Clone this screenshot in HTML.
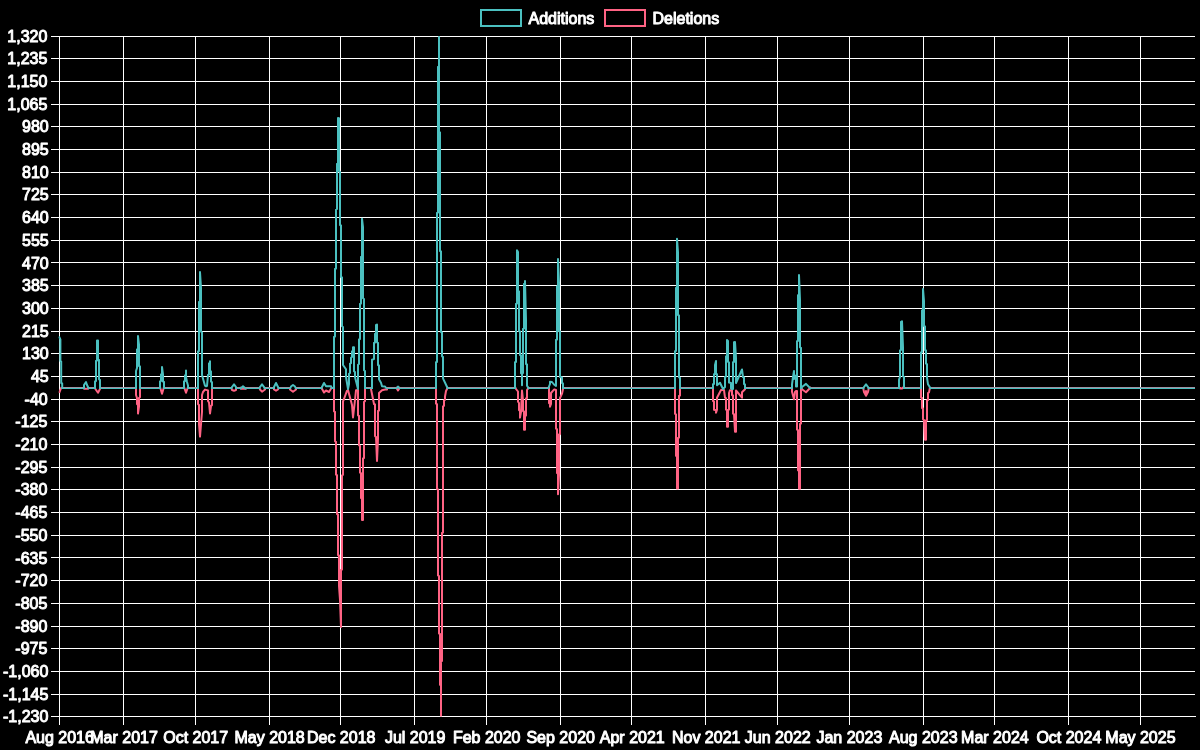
<!DOCTYPE html>
<html><head><meta charset="utf-8"><title>Code frequency</title>
<style>html,body{margin:0;padding:0;background:#000;}svg{display:block}text{font-family:"Liberation Sans",sans-serif;font-size:16px;fill:#fff;stroke:#fff;stroke-width:1;stroke-linejoin:round;paint-order:stroke fill}</style></head><body>
<svg width="1200" height="750" viewBox="0 0 1200 750">
<rect x="0" y="0" width="1200" height="750" fill="#000"/>
<path d="M59.5 36.0V725.3M123.5 36.0V725.3M195.5 36.0V725.3M269.5 36.0V725.3M340.5 36.0V725.3M414.5 36.0V725.3M486.5 36.0V725.3M560.5 36.0V725.3M631.5 36.0V725.3M705.5 36.0V725.3M777.5 36.0V725.3M849.5 36.0V725.3M923.5 36.0V725.3M994.5 36.0V725.3M1068.5 36.0V725.3M1140.5 36.0V725.3M51.4 36.5H1195.2M51.4 58.5H1195.2M51.4 81.5H1195.2M51.4 104.5H1195.2M51.4 126.5H1195.2M51.4 149.5H1195.2M51.4 172.5H1195.2M51.4 194.5H1195.2M51.4 217.5H1195.2M51.4 240.5H1195.2M51.4 262.5H1195.2M51.4 285.5H1195.2M51.4 308.5H1195.2M51.4 331.5H1195.2M51.4 353.5H1195.2M51.4 376.5H1195.2M51.4 399.5H1195.2M51.4 421.5H1195.2M51.4 444.5H1195.2M51.4 467.5H1195.2M51.4 489.5H1195.2M51.4 512.5H1195.2M51.4 535.5H1195.2M51.4 557.5H1195.2M51.4 580.5H1195.2M51.4 603.5H1195.2M51.4 626.5H1195.2M51.4 648.5H1195.2M51.4 671.5H1195.2M51.4 694.5H1195.2M51.4 716.5H1196.0" stroke="#ffffff" stroke-width="1" fill="none" shape-rendering="crispEdges"/>
<clipPath id="ca"><rect x="58.37" y="35" width="1137.63" height="682.8"/></clipPath>
<g clip-path="url(#ca)" fill="none" stroke-linejoin="round">
<path d="M62 388H83M88 388H94M101 388H136M140 388H160M164 388H184M188 388H198M212 388H231M236 388H240M246 388H259M265 388H274M279 388H290M296 388H321M332 388H334M365 388H371M387 388H396M400 388H436M448 388H515M529 388H549M564 388H675M680 388H713M745 388H792M811 388H863M869 388H900M903 388H921M930 388H1195" stroke="rgb(255,99,132)" stroke-width="2"/>
<path d="M59.2 392.8L61.5 387M83 387L84 388.7L88 388.7L88 387M94 387L98 392.7L101 387M136 387L136 395L137 398L137 404L138 405L138 413.5L139 406.5L139 398L140 397L140 387M160 387L162 393.8L164 387M184 387L186 392.7L188 387M198 387L198 404L199 405L199 424L200 436.6L202 412L202 395L203 392L205 389.6L208 390.4L208 391L208 401L209 402.5L210 413.5L211 406L212 405L212 387M231 387L232 390L234 390.7L236 390L236 387M240 387L241 388.7L246 388.7L246 387M259 387L260 389.5L262 391.7L265 389.5L265 387M274 387L274 389.5L276 390.7L278 389.5L279 387M290 387L290 389.5L293 391.7L296 389.5L296 387M321 387L324 392.5L326 390.5L329 392L332 387M334 387L334 411.3L335 411.8L335 441.3L336 441.8L336 474.7L337 475.2L337 514L338 514.5L338 555L339 555.5L339 586L340 600L341 627L341 600L341 570L342 569.5L342 475.3L343 474.8L343 401.3L344 399L347 390.7L348 390L352 405L353 417.4L355 400L356 390.3L358 390L358 415.3L359 415.8L359 445.3L360 445.8L360 472.7L361 473.2L361 498L362 498.5L362 520L363 520L363 514L363 458.5L364 458L364 402L365 401L365 387M371 387L371 389L374 404L375 404.5L375 436L376 437L377 461L377 461L378 438.7L378 411L379 410.5L379 393L382 390.2L384 389.8L385 389.6L387 389.5L387 387M396 387L398 390.5L400 387M436 387L436 403.7L437 404.2L437 489L438 489.5L438 575.4L439 576L439 633.6L440 634L440 684.8L441 685.3L441 715.8L441 661.6L442 661L442 533L443 532.5L443 406.3L444 405.8L444 400.3L445 399.8L445 396.5L446 391L448 387M515 387L516 389L518 391.5L518 401.7L519 403L519 410L520 411L520 417.7L521 412L522 390.5L523 400L523 411L524 411.5L524 429.7L525 429.7L525 416L526 415.5L526 398.5L527 398L527 390L529 387M549 387L549 403L550 404L550 406.7L551 404L551 393L554 389.6L555 389.6L556 390L556 428.7L557 429.2L557 473L558 473.5L558 494.3L558 494.3L559 474.6L559 434.5L560 434L560 398L562 393.7L563 389L564 387M675 387L675 413.8L676 414.3L676 455.8L677 456.3L677 488.4L678 488.4L678 480L678 438L679 437.5L679 396L680 395.5L680 387M713 387L713 401L714 401.5L714 409.7L716 410.2L716 412.7L716 412.7L717 409.7L717 397.7L721 390L722 390L724 390L725 397.7L726 398.2L726 409.7L727 410.2L727 426.7L728 426.7L728 410L729 409.5L729 393L730 390.2L732 390.2L732 395L733 395.5L733 413.7L734 414.2L735 431.7L736 431.7L736 415.7L736 390.5L742 397.7L742 397.7L742 392.3L745 389.3L745 387M792 387L792 391.7L794 399.3L794 399.3L795 392L796 391L797 391L797 429.7L798 430.2L798 470.3L799 470.8L799 488.7L800 488.7L800 467L800 424L801 423.5L801 387M801 387L802 389.2L806 392.2L811 387M863 387L864 392L866 395.7L866 391L866 395.7L868 392L869 387M900 387L900 388.6L902 388.6L903 387M921 387L921 397.6L922 398L922 408L923 408.5L923 419.2L924 420L925 439.8L926 439.8L926 438L926 420.5L927 420L927 400.5L928 400L928 393L929 392.4L930 387" stroke="rgb(255,99,132)" stroke-width="2"/>
<path d="M62 388.2H84M89 388.2H95M100 388.2H136M140 388.2H160M164 388.2H184M188 388.2H198M212 388.2H231M236 388.2H240M246 388.2H259M265 388.2H274M279 388.2H290M296 388.2H321M332 388.2H334M365 388.2H372M387 388.2H396M400 388.2H436M448 388.2H515M529 388.2H548M563 388.2H675M680 388.2H713M745 388.2H792M811 388.2H863M869 388.2H899M904 388.2H921M931 388.2H1195" stroke="rgb(75,192,192)" stroke-width="1.5"/>
<path d="M59 336.5L60.4 339.5L60.4 361L61.2 361.5L61.2 383L62.2 383.5L62.2 389M84 389L84 385L86 382L87 385L88 387L89 389M95 389L95 381.5L96 381L96 361L97 360.5L97 340.5L98 340.5L98 359.3L99 359.8L99 379.3L100 379.8L100 389M136 389L136 371L137 368L137 349.5L138 348.5L138 336L139 344.5L139 366L140 366.5L140 389M160 389L160 381.5L161 381L161 374.5L162 374L162 367L162 367L163 374.5L163 381.5L164 382L164 389M184 389L184 381.5L185 381L185 375.5L186 375L186 371L186 370.5L186 377L187 382L188 385.5L188 389M198 389L198 351.5L199 351L199 302L200 301L200 272L201 288L201 331.5L202 332.5L202 375L205 385.7L206 386.3L207 386L208 375L209 374.5L209 363.3L210 362.8L210 362L210 361.3L210 371L211 371.5L211 381.7L212 382.2L212 389M231 389L232 387L234 384.3L236 387L236 389M240 389L243 386.3L246 389M259 389L260 387L262 384.3L264 387L265 389M274 389L274 387L276 383L278 387L279 389M290 389L291 386.5L293 385L295 386.5L296 389M321 389L322 387L324 383L326 386.2L331 386.2L332 389M334 389L334 337L335 336.5L335 269L336 268.5L336 209.7L337 209L337 164L338 163.5L338 118L339 118.3L339 171L340 172L340 225L341 225.5L341 277L342 277.5L342 326.3L343 327L343 365L346 369.3L346 377L348 389L349 384L349 373.7L350 373L350 363.7L351 363.2L351 357.7L352 357L352 351.3L353 350.5L353 347.3L354 347.3L354 358L354 371.3L355 372L355 377L358 389L358 364.7L359 364L359 339.5L360 339L360 304L361 303.5L361 257L362 256.5L362 218.7L363 227L363 298.3L364 299L364 370.3L365 371L365 389M372 389L372 359.7L374 359L374 343L375 342.5L375 334L376 333.5L376 325L377 325L377 324.5L377 342.3L378 342.8L378 365L379 365.5L379 379.3L381 382.7L382 386.3L385 386.5L387 389M396 389L398 386.5L400 389M436 389L436 362.3L437 362L437 213L438 212.5L438 67L439 66.5L439 37L439 132L440 132.5L440 251L441 251.5L441 332L442 332.5L442 356.3L443 356.8L443 378.3L448 389M515 389L515 362.3L516 362L516 304L517 303.5L517 250.3L518 252L518 291L519 291.5L519 331L520 331.5L520 355L521 355.5L521 373.3L522 374L522 385.3L522 373.5L523 373L523 329L524 328.5L524 284L525 283.5L525 281L526 320L526 364L527 364.5L527 385.7L529 389M548 389L550 384L550 381.7L552 382L554 384.5L556 386L556 340L557 339.5L557 286.4L558 286L558 259L559 283L559 331L560 331.5L560 377L562 377.5L562 383L563 383.5L563 389M675 389L675 351.3L676 351L676 288L677 287.5L677 238.8L677 238.8L678 252.2L678 315L679 315.5L679 377.3L680 377.8L680 389M713 389L713 384.3L714 384L714 374.3L715 374L715 365L716 361L716 365L716 374L717 374.3L717 382.3L717 385.3L720 382.7L723 389L725 387L725 377L726 376.5L726 356.5L727 356L727 340.1L728 341L728 361.8L729 362.3L729 382.5L731 383L731 389M731 389L733 389L733 362.3L734 362L734 342.3L735 342L735 342L736 358L736 383L742 369.5L742 369.5L743 377L744 377.5L744 384L745 384.5L745 389M792 389L792 384.3L793 377L794 371L794 379L795 375.5L796 380L796 386.5L797 386.5L797 341.3L798 341L798 295.3L799 295L799 275L799 275L800 300L800 347.3L801 347.8L801 389M801 389L802 387L806 383.9L811 389M863 389L864 387L866 384.3L868 387L869 389M899 389L899 379.7L900 377L900 350.4L901 350L901 322L902 321.5L902 321.3L902 321.3L903 347.2L903 376.3L904 376.8L904 389M921 389L921 352.5L922 352L922 310.4L923 310L923 289L924 301.3L924 326L925 326.5L925 350L926 350.5L926 363.7L927 364.2L927 377.7L928 384.3L931 389" stroke="rgb(75,192,192)" stroke-width="2"/>
</g>
<filter id="gs" filterUnits="userSpaceOnUse" x="0" y="0" width="1200" height="750"><feOffset dx="0" dy="0"/></filter><g filter="url(#gs)">
<rect x="481" y="10" width="40" height="16" fill="none" stroke="rgb(75,192,192)" stroke-width="2"/>
<text x="528.5" y="23.8">Additions</text>
<rect x="605" y="10" width="40" height="16" fill="none" stroke="rgb(255,99,132)" stroke-width="2"/>
<text x="652.5" y="23.8">Deletions</text>
<text x="47.4" y="41.60" text-anchor="end">1,320</text>
<text x="47.4" y="64.29" text-anchor="end">1,235</text>
<text x="47.4" y="86.99" text-anchor="end">1,150</text>
<text x="47.4" y="109.68" text-anchor="end">1,065</text>
<text x="48.7" y="132.37" text-anchor="end">980</text>
<text x="48.7" y="155.07" text-anchor="end">895</text>
<text x="48.7" y="177.76" text-anchor="end">810</text>
<text x="48.7" y="200.45" text-anchor="end">725</text>
<text x="48.7" y="223.15" text-anchor="end">640</text>
<text x="48.7" y="245.84" text-anchor="end">555</text>
<text x="48.7" y="268.53" text-anchor="end">470</text>
<text x="48.7" y="291.23" text-anchor="end">385</text>
<text x="48.7" y="313.92" text-anchor="end">300</text>
<text x="48.7" y="336.61" text-anchor="end">215</text>
<text x="48.7" y="359.31" text-anchor="end">130</text>
<text x="48.7" y="382.00" text-anchor="end">45</text>
<text x="47.7" y="404.69" text-anchor="end">-40</text>
<text x="47.4" y="427.39" text-anchor="end">-125</text>
<text x="47.4" y="450.08" text-anchor="end">-210</text>
<text x="47.4" y="472.77" text-anchor="end">-295</text>
<text x="47.4" y="495.47" text-anchor="end">-380</text>
<text x="47.4" y="518.16" text-anchor="end">-465</text>
<text x="47.4" y="540.85" text-anchor="end">-550</text>
<text x="47.4" y="563.55" text-anchor="end">-635</text>
<text x="47.4" y="586.24" text-anchor="end">-720</text>
<text x="47.4" y="608.93" text-anchor="end">-805</text>
<text x="47.4" y="631.63" text-anchor="end">-890</text>
<text x="47.4" y="654.32" text-anchor="end">-975</text>
<text x="48.4" y="677.01" text-anchor="end">-1,060</text>
<text x="48.4" y="699.71" text-anchor="end">-1,145</text>
<text x="48.4" y="722.40" text-anchor="end">-1,230</text>
<text x="59.67" y="742.5" text-anchor="middle">Aug 2016</text>
<text x="124.09" y="742.5" text-anchor="middle">Mar 2017</text>
<text x="195.66" y="742.5" text-anchor="middle">Oct 2017</text>
<text x="269.62" y="742.5" text-anchor="middle">May 2018</text>
<text x="341.19" y="742.5" text-anchor="middle">Dec 2018</text>
<text x="415.15" y="742.5" text-anchor="middle">Jul 2019</text>
<text x="486.72" y="742.5" text-anchor="middle">Feb 2020</text>
<text x="560.68" y="742.5" text-anchor="middle">Sep 2020</text>
<text x="632.26" y="742.5" text-anchor="middle">Apr 2021</text>
<text x="706.22" y="742.5" text-anchor="middle">Nov 2021</text>
<text x="777.79" y="742.5" text-anchor="middle">Jun 2022</text>
<text x="849.36" y="742.5" text-anchor="middle">Jan 2023</text>
<text x="923.32" y="742.5" text-anchor="middle">Aug 2023</text>
<text x="994.89" y="742.5" text-anchor="middle">Mar 2024</text>
<text x="1068.85" y="742.5" text-anchor="middle">Oct 2024</text>
<text x="1140.43" y="742.5" text-anchor="middle">May 2025</text>
</g>
</svg></body></html>
